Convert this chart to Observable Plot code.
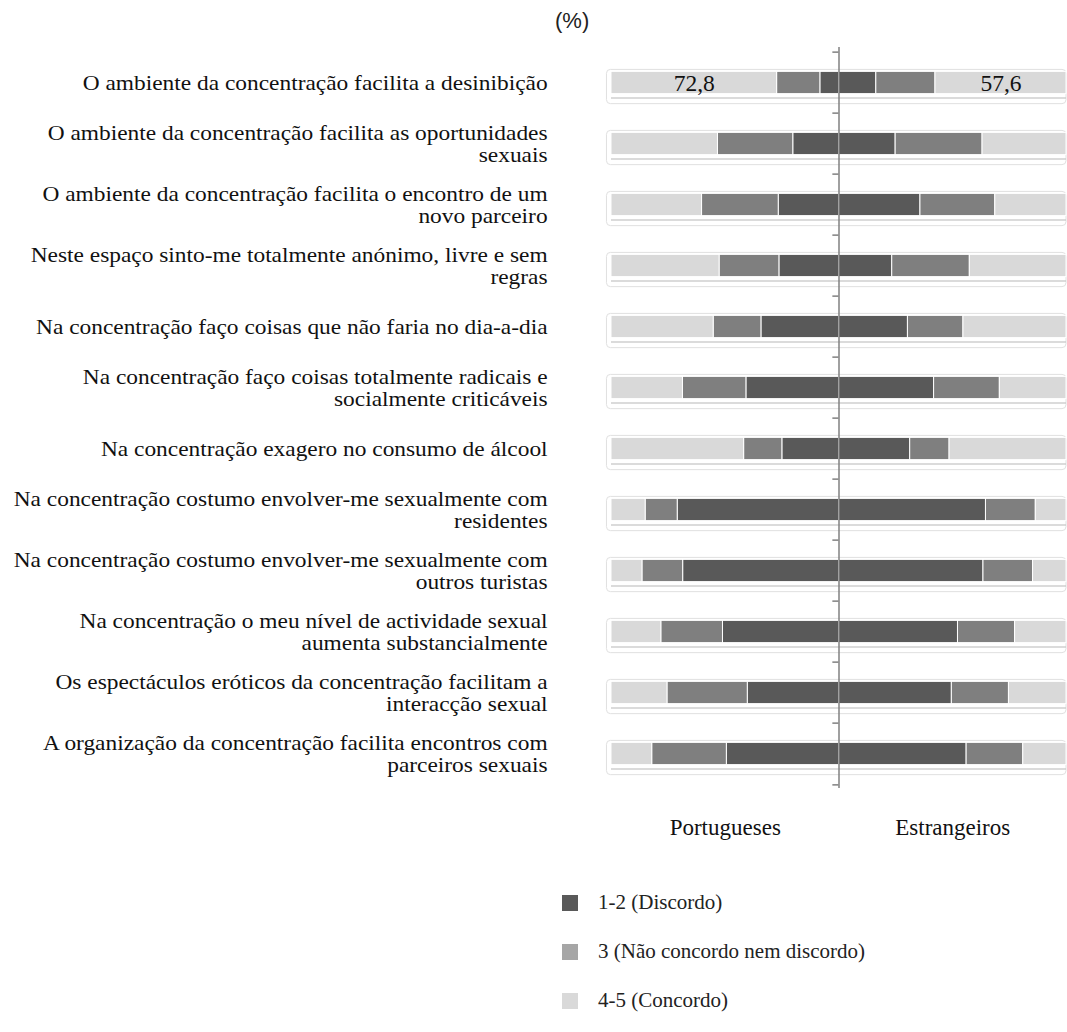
<!DOCTYPE html>
<html>
<head>
<meta charset="utf-8">
<script src="https://cdn.jsdelivr.net/npm/d3@7"></script>
<script src="https://cdn.jsdelivr.net/npm/@observablehq/plot@0.6"></script>
<style>
  body { margin: 0; background: #fff; width: 1067px; }
  #pct { height: 40px; position: relative; font-family: "Liberation Sans", Arial, sans-serif; font-size: 22px; color: #222; }
  #pct span { position: absolute; left: 555px; top: 8px; }
  #chart svg { display: block; }
  #legend { padding-left: 562px; padding-top: 28px; font-family: "Liberation Serif", "Times New Roman", serif; font-size: 21px; color: #222; }
  .lrow { height: 49px; display: flex; align-items: center; }
  .sw { width: 16px; height: 16px; margin-right: 20px; }
</style>
</head>
<body>
<div id="pct"><span>(%)</span></div>
<div id="chart"></div>
<div id="legend"></div>
<script>
const categories = [
  "O ambiente da concentração facilita a desinibição",
  "O ambiente da concentração facilita as oportunidades\nsexuais",
  "O ambiente da concentração facilita o encontro de um\nnovo parceiro",
  "Neste espaço sinto-me totalmente anónimo, livre e sem\nregras",
  "Na concentração faço coisas que não faria no dia-a-dia",
  "Na concentração faço coisas totalmente radicais e\nsocialmente criticáveis",
  "Na concentração exagero no consumo de álcool",
  "Na concentração costumo envolver-me sexualmente com\nresidentes",
  "Na concentração costumo envolver-me sexualmente com\noutros turistas",
  "Na concentração o meu nível de actividade sexual\naumenta substancialmente",
  "Os espectáculos eróticos da concentração facilitam a\ninteracção sexual",
  "A organização da concentração facilita encontros com\nparceiros sexuais"
];
const groups = ["Portugueses", "Estrangeiros"];
const responses = ["1-2 (Discordo)", "3 (Não concordo nem discordo)", "4-5 (Concordo)"];
// Portugueses (left side)
const ptDiscordo = [8.2, 20.1, 26.5, 26.2, 34.1, 40.7, 24.9, 70.9, 68.5, 51.0, 40.1, 49.3];
const ptNeutro   = [19.0, 33.1, 33.7, 26.3, 21.0, 27.9, 16.8, 14.1, 17.9, 27.1, 35.3, 32.8];
const ptConcordo = [72.8, 46.8, 39.8, 47.5, 44.9, 31.4, 58.3, 15.0, 13.6, 21.9, 24.6, 17.9];
// Estrangeiros (right side)
const esDiscordo = [16.4, 24.9, 35.8, 23.4, 30.3, 41.8, 31.3, 64.6, 63.5, 52.3, 49.6, 56.1];
const esNeutro   = [26.0, 38.2, 32.9, 34.1, 24.4, 28.9, 17.3, 21.9, 21.8, 25.1, 25.1, 24.9];
const esConcordo = [57.6, 36.9, 31.3, 42.5, 45.3, 29.3, 51.4, 13.5, 14.7, 22.6, 25.3, 19.0];
// values printed on the chart (first row only)
const printedRows = [0];

const colors = ["#595959", "#7f7f7f", "#d9d9d9"];
const legendColors = ["#595959", "#a6a6a6", "#d9d9d9"];

// build segments
const segs = [];
categories.forEach((cat, i) => {
  const sides = [
    {sign: -1, vals: [ptDiscordo[i], ptNeutro[i], ptConcordo[i]]},
    {sign: 1, vals: [esDiscordo[i], esNeutro[i], esConcordo[i]]}
  ];
  sides.forEach((s, si) => {
    let acc = 0;
    s.vals.forEach((v, k) => {
      segs.push({cat, row: i, group: groups[si], response: responses[k], value: v,
                 x1: s.sign * acc, x2: s.sign * (acc + v)});
      acc += v;
    });
  });
});
const printed = segs.filter(d => printedRows.includes(d.row) && d.response === responses[2]);

const W = 1067, H = 810, MT = 7, MB = 62, ML = 611;
const step = (H - MT - MB) / categories.length;
const barH = 23;
const inset = (step - barH) / 2;
const labelGap = 64;
const stretch = 1.17;
const serif = "Liberation Serif, Times New Roman, serif";

const chart = Plot.plot({
  width: W,
  height: H,
  marginLeft: ML,
  marginRight: 1,
  marginTop: MT,
  marginBottom: MB,
  x: {domain: [-100, 100], axis: null},
  y: {domain: categories, padding: 0, axis: null},
  style: {fontFamily: serif, fontSize: "21px", color: "#222", background: "white"},
  marks: [
    // row frames
    Plot.barX(categories, {y: d => d, x1: -102, x2: 100, insetTop: inset - 2, insetBottom: inset - 10,
      fill: "none", stroke: "#e0e0e0", strokeWidth: 1, rx: 4}),
    // shadow line under each bar
    Plot.barX(categories, {y: d => d, x1: -100, x2: 100, insetTop: inset + barH + 3, insetBottom: inset - 5,
      fill: "#c6c6c6"}),
    // segments
    Plot.barX(segs, {y: "cat", x1: "x1", x2: "x2", fill: d => colors[responses.indexOf(d.response)],
      stroke: "white", strokeWidth: 1, insetTop: inset, insetBottom: inset}),
    // printed values
    Plot.text(printed, {y: "cat", x: d => (d.x1 + d.x2) / 2, text: d => d.value.toFixed(1).replace(".", ","),
      fontSize: 23.5, fill: "#111"}),
    // category labels
    Plot.text(categories, {y: d => d, text: d => d, frameAnchor: "left", textAnchor: "end", dx: -labelGap,
      lineHeight: 1.1, fontSize: 20, fill: "#111"}),
    // center axis
    Plot.ruleX([0], {stroke: "#808080", strokeWidth: 1.5}),
    Plot.ruleY(categories, {y: d => d, x1: -2.7, x2: 0, dy: -step / 2, stroke: "#808080", strokeWidth: 1.5}),
    Plot.ruleY([categories[categories.length - 1]], {y: d => d, x1: -2.7, x2: 0, dy: step / 2, stroke: "#808080", strokeWidth: 1.5}),
    // group labels
    Plot.text(groups, {x: (d, i) => i === 0 ? -50 : 50, text: d => d, frameAnchor: "bottom", dy: 46,
      fontSize: 23, fill: "#111"})
  ]
});
document.getElementById("chart").appendChild(chart);

// widen the category labels horizontally (the source font is wide), anchored at their right edge
const anchorX = ML - labelGap;
const firstLabel = Array.from(chart.querySelectorAll("text")).find(t => t.textContent === categories[0]);
if (firstLabel) {
  const g = firstLabel.parentNode;
  const wrap = document.createElementNS("http://www.w3.org/2000/svg", "g");
  wrap.setAttribute("transform", `translate(${anchorX * (1 - stretch)},0) scale(${stretch},1)`);
  g.parentNode.insertBefore(wrap, g);
  wrap.appendChild(g);
}

const legend = d3.select("#legend");
responses.forEach((r, k) => {
  const row = legend.append("div").attr("class", "lrow");
  row.append("div").attr("class", "sw").style("background", legendColors[k]);
  row.append("span").text(r);
});
</script>
</body>
</html>
